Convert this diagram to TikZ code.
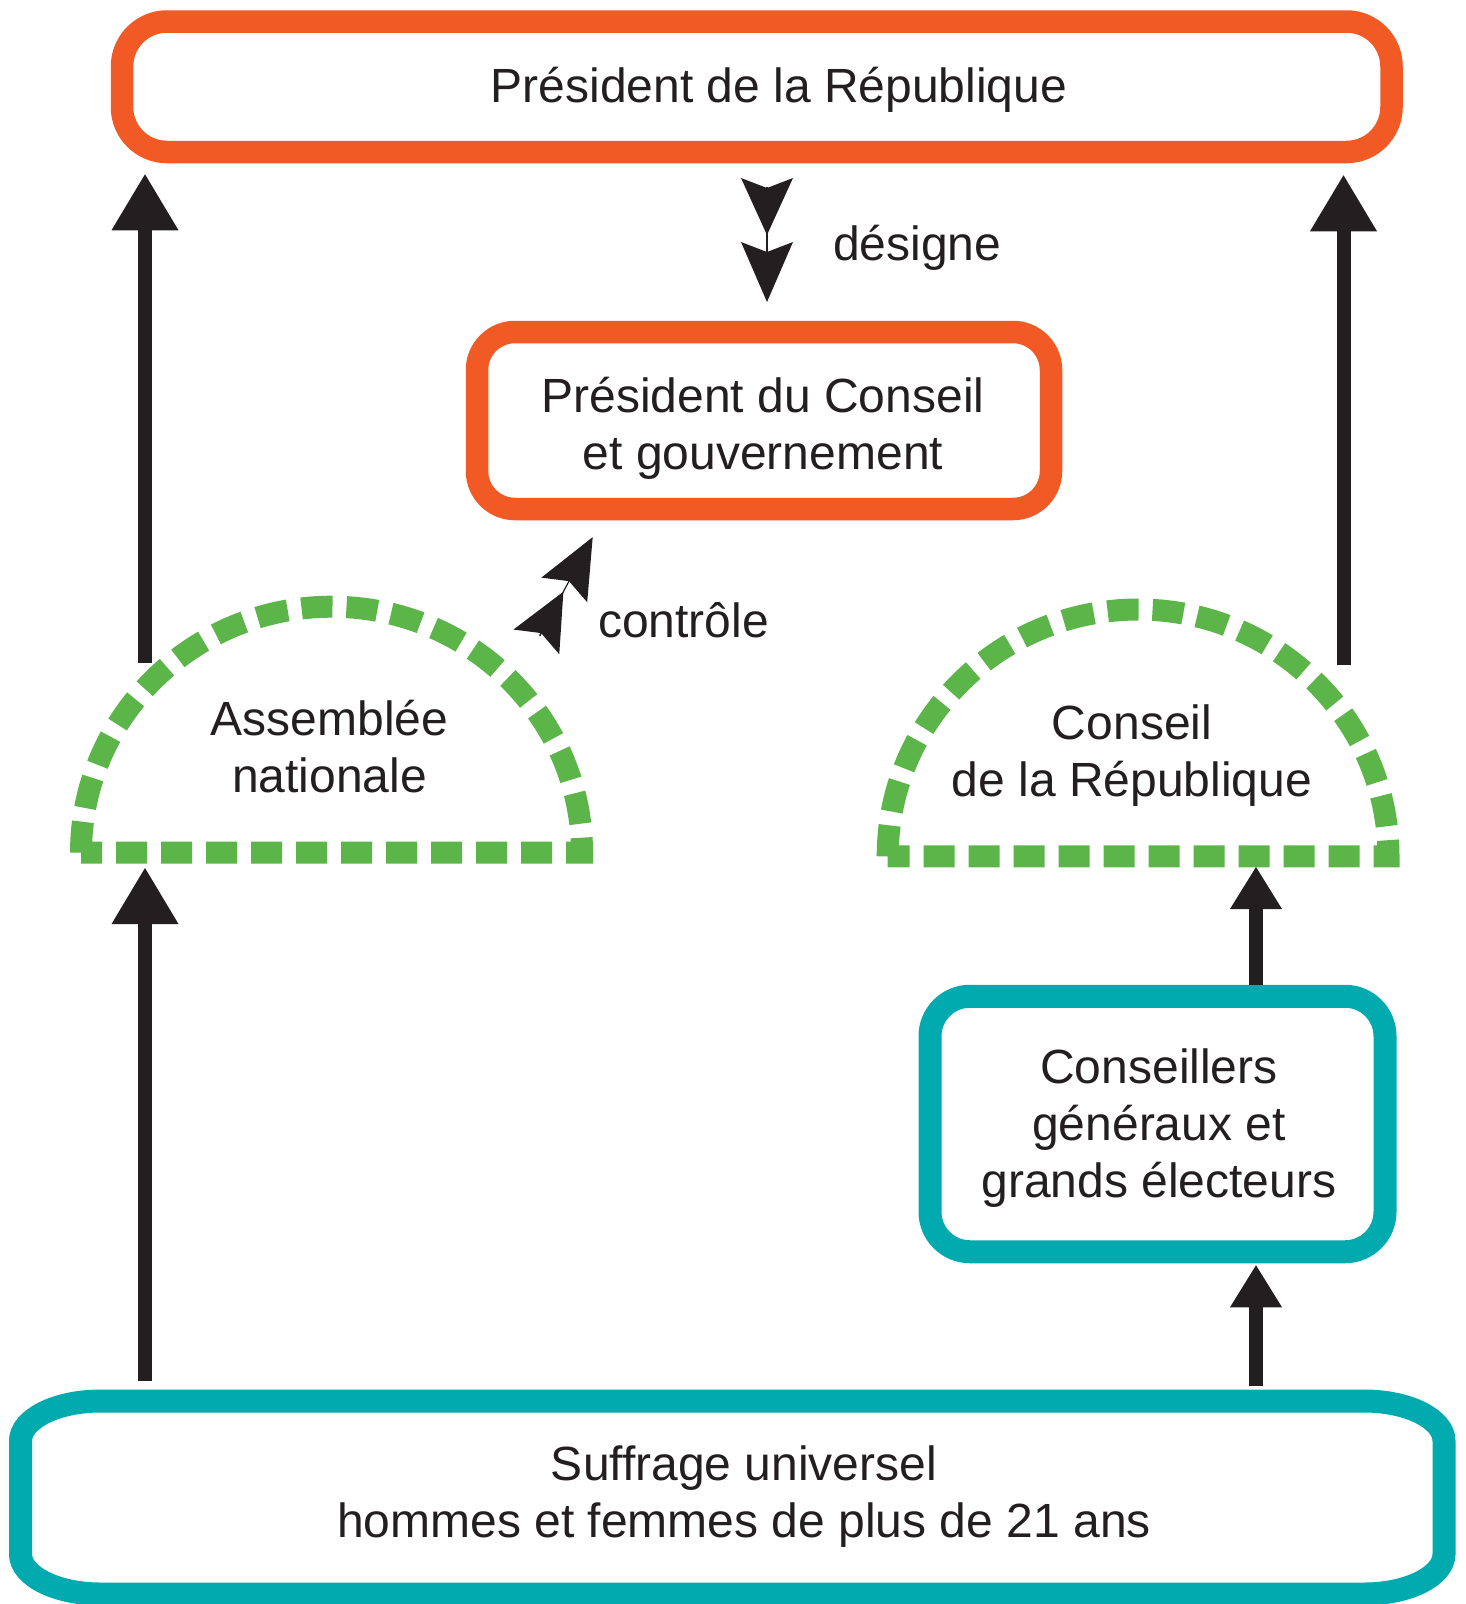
\documentclass[tikz,border=0pt]{standalone}
\usepackage{fontspec}
\setmainfont{Liberation Sans}
\usetikzlibrary{arrows.meta}
\definecolor{orng}{RGB}{241,90,36}
\definecolor{tealc}{RGB}{0,170,175}
\definecolor{grn}{RGB}{92,181,72}
\definecolor{ink}{RGB}{35,31,32}
\begin{document}
\begin{tikzpicture}[x=1pt,y=-1pt,
  txt/.style={font=\fontsize{48}{57}\selectfont, text=ink, inner sep=0pt, outer sep=0pt, align=center},
  obox/.style={draw=orng, line width=22.5pt, fill=white, inner sep=0pt},
  tbox/.style={draw=tealc, line width=23pt, fill=white, inner sep=0pt},
  halfdome/.style={draw=grn, line width=22pt, dash pattern=on 31pt off 14pt},
  bigarrow/.style={draw=ink, line width=14pt, -{Triangle[length=56pt,width=67pt,line width=0pt]}},
  smallarrow/.style={draw=ink, line width=14pt, -{Triangle[length=42pt,width=52pt,line width=0pt]}},
  stemline/.style={draw=ink, line width=1.2pt},
  headone/.style={-{Stealth[length=57pt,width=52pt,inset=10pt,line width=0pt]}},
  headtwo/.style={-{Stealth[length=60pt,width=52pt,inset=10pt,line width=0pt]}}
]
\fill[white] (0,0) rectangle (1466,1604);
\useasboundingbox (0,0) rectangle (1466,1604);

% boxes
\node[obox, rounded corners=45pt, minimum width=1269.5pt, minimum height=130.5pt] (pr) at (756.75,86.75) {};
\node[txt, anchor=base] (prt) at (779,102) {Président de la République};

\node[obox, rounded corners=38pt, minimum width=574pt, minimum height=177pt] (pc) at (764,420.5) {};
\node[txt, anchor=base] (pct) at (763,469.5) {Président du Conseil\\et gouvernement};

\node[tbox, rounded corners=40pt, minimum width=455pt, minimum height=255.5pt] (cg) at (1157.5,1124) {};
\node[txt, anchor=base] (cgt) at (1159,1197) {Conseillers\\généraux et\\grands électeurs};

\node[inner sep=0pt, outer sep=0pt, minimum width=1423.5pt, minimum height=193pt] (su) at (732.25,1497.5) {};
\draw[tealc, line width=23pt] (100.5,1401) -- (1364,1401)
  arc[start angle=270, end angle=360, x radius=80, y radius=40] -- (1444,1554)
  arc[start angle=0, end angle=90, x radius=80, y radius=40] -- (100.5,1594)
  arc[start angle=90, end angle=180, x radius=80, y radius=40] -- (20.5,1441)
  arc[start angle=180, end angle=270, x radius=80, y radius=40] -- cycle;
\node[txt, anchor=base] (sut) at (744,1537.5) {Suffrage universel\\hommes et femmes de plus de 21 ans};

% half domes
\draw[halfdome] (81,852.7) arc[start angle=180, end angle=360, x radius=250.5, y radius=246] -- cycle;
\node[txt, anchor=base] (an) at (329.5,792) {Assemblée\\nationale};
\draw[halfdome] (887.7,856.3) arc[start angle=180, end angle=360, x radius=250.4, y radius=246.8] -- cycle;
\node[txt, anchor=base] (cr) at (1132,796) {Conseil\\de la République};

% labels
\node[txt, anchor=base west] (des) at (833,260) {désigne};
\node[txt, anchor=base west] (ctl) at (598,637) {contrôle};

% free ends
\coordinate (anT) at (145,663);
\coordinate (anB) at (145,868);
\coordinate (crT) at (1343.5,665);
\coordinate (crB) at (1256,867);

% arrows
\draw[bigarrow, shorten >=11pt] (anT) -- (pr.south -| anT);
\draw[bigarrow, shorten >=12pt] (crT) -- (pr.south -| crT);
\draw[bigarrow, shorten <=20pt] (su.north -| anB) -- (anB);
\draw[smallarrow] (cg.north -| crB) -- (crB);
\draw[smallarrow, shorten <=15pt, shorten >=2pt] (su.north -| crB) -- (cg.south -| crB);

% designe
\coordinate (dA) at (767,187);
\coordinate (dM) at (767,235);
\coordinate (dB) at (767,302);
\draw[stemline, headtwo] (dA) -- (dB);
\draw[stemline, headone] (dA) -- (dM);

% controle
\coordinate (cA) at (539.7,635.7);
\coordinate (cM) at (563.4,591.7);
\coordinate (cB) at (592.7,537.1);
\draw[stemline, headtwo] (cA) -- (cB);
\draw[stemline, headone] (cA) -- (cM);
\end{tikzpicture}
\end{document}
